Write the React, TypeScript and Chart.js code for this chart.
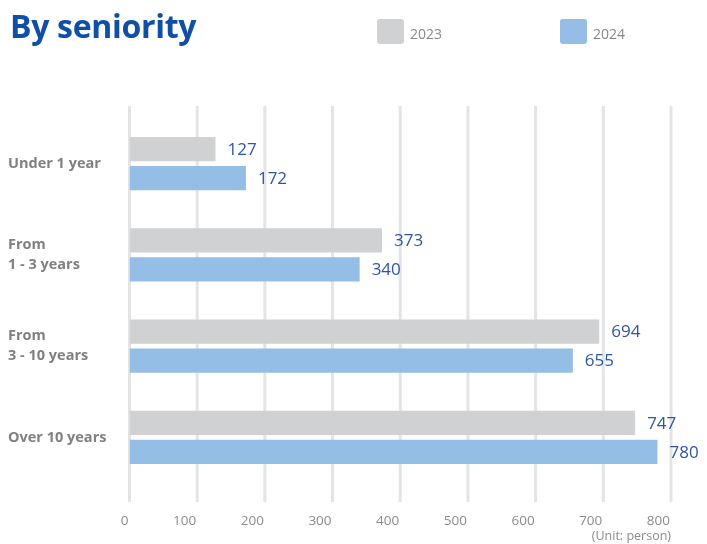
import React, { useEffect, useRef } from "react";
import { Chart, registerables } from "chart.js";

Chart.register(...registerables);

const categories: (string | string[])[] = [
  "Under 1 year",
  ["From", "1 - 3 years"],
  ["From", "3 - 10 years"],
  "Over 10 years",
];
const values2023 = [127, 373, 694, 747];
const values2024 = [172, 340, 655, 780];
const xTicks = [0, 100, 200, 300, 400, 500, 600, 700, 800];

const C2023 = "#d0d1d3";
const C2024 = "#95bee6";
const FONT = "'Open Sans', sans-serif";

const gridPlugin = {
  id: "extGrid",
  beforeDatasetsDraw(chart: any) {
    const { ctx, chartArea, scales } = chart;
    const xs = scales.x;
    ctx.save();
    ctx.strokeStyle = "#e4e4e4";
    ctx.lineWidth = 3;
    xTicks.forEach((v) => {
      const px = xs.getPixelForValue(v);
      ctx.beginPath();
      ctx.moveTo(px, chartArea.top - 12);
      ctx.lineTo(px, chartArea.bottom + 19);
      ctx.stroke();
    });
    ctx.restore();
  },
};

const valueLabelPlugin = {
  id: "valueLabels",
  afterDatasetsDraw(chart: any) {
    const { ctx } = chart;
    ctx.save();
    ctx.fillStyle = "#2c56a5";
    ctx.font = `17px ${FONT}`;
    ctx.textAlign = "left";
    ctx.textBaseline = "middle";
    chart.data.datasets.forEach((ds: any, di: number) => {
      const meta = chart.getDatasetMeta(di);
      meta.data.forEach((bar: any, i: number) => {
        ctx.fillText(String(ds.data[i]), bar.x + 12, bar.y + 1);
      });
    });
    ctx.restore();
  },
};

export default function App() {
  const ref = useRef<HTMLCanvasElement>(null);

  useEffect(() => {
    if (!ref.current) return;
    const chart = new Chart(ref.current, {
      type: "bar",
      data: {
        labels: categories as any,
        datasets: [
          {
            label: "2023",
            data: values2023,
            backgroundColor: C2023,
            categoryPercentage: 0.635,
            barPercentage: 0.83,
          },
          {
            label: "2024",
            data: values2024,
            backgroundColor: C2024,
            categoryPercentage: 0.635,
            barPercentage: 0.83,
          },
        ],
      },
      options: {
        indexAxis: "y",
        animation: false,
        responsive: false,
        maintainAspectRatio: false,
        layout: { padding: { left: 8, right: 36, top: 118, bottom: 0 } },
        plugins: {
          legend: { display: false },
          tooltip: { enabled: false },
          title: { display: false },
        },
        scales: {
          x: {
            min: 0,
            max: 800,
            afterBuildTicks: (scale: any) => {
              scale.ticks = xTicks.map((v) => ({ value: v }));
            },
            afterFit: (scale: any) => {
              scale.height = 61;
            },
            grid: { display: false, drawTicks: false },
            border: { display: false },
            ticks: {
              align: "end",
              labelOffset: -1,
              padding: 30,
              color: "#8c8c8c",
              font: { family: FONT, size: 13.5 },
            },
            title: {
              display: true,
              text: "(Unit: person)",
              align: "end",
              color: "#8c8c8c",
              font: { family: FONT, size: 12.5 },
              padding: { top: 0, bottom: 0 },
            },
          },
          y: {
            afterFit: (scale: any) => {
              scale.width = 121.5;
            },
            grid: { display: false, drawTicks: false },
            border: { display: false },
            ticks: {
              crossAlign: "far",
              padding: 0,
              color: "#808080",
              font: { family: FONT, size: 14.5, weight: "bold", lineHeight: 1.35 },
            },
          },
        },
      },
      plugins: [gridPlugin, valueLabelPlugin],
    });
    return () => chart.destroy();
  }, []);

  const legendItem = (left: number, color: string, text: string) => (
    <div style={{ position: "absolute", left, top: 19, display: "flex", alignItems: "center" }}>
      <div style={{ width: 27, height: 25, borderRadius: 3, background: color }} />
      <span style={{ marginLeft: 6, fontFamily: FONT, fontSize: 14, color: "#888888", marginTop: 4 }}>{text}</span>
    </div>
  );

  return (
    <div style={{ position: "fixed", left: 0, top: 0, width: 707, height: 544, background: "#ffffff" }}>
      <canvas ref={ref} width={707} height={544} style={{ position: "absolute", left: 0, top: 0, width: 707, height: 544 }} />
      <div
        style={{
          position: "absolute",
          left: 10,
          top: 3,
          fontFamily: FONT,
          fontWeight: 700,
          fontSize: 32,
          color: "#0f4fa8",
          lineHeight: "46px",
          letterSpacing: -0.3,
        }}
      >
        By seniority
      </div>
      {legendItem(377, C2023, "2023")}
      {legendItem(560, C2024, "2024")}
    </div>
  );
}
